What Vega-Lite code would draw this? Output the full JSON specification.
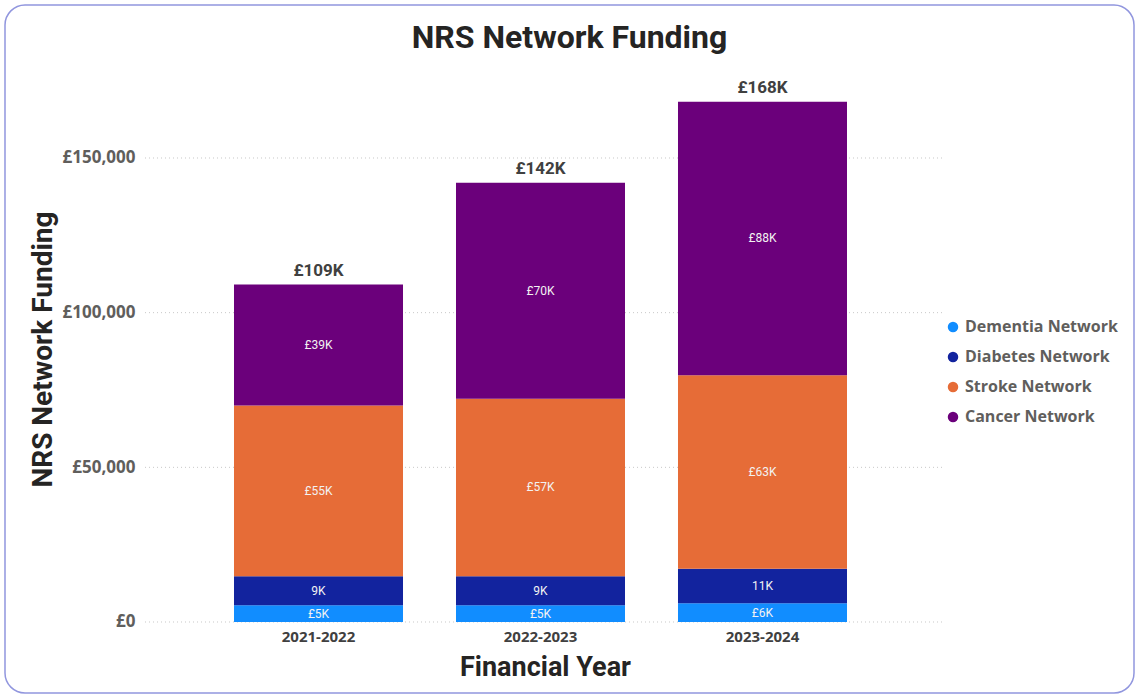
{
  "$schema": "https://vega.github.io/schema/vega-lite/v6.json",
  "width": 1129,
  "height": 688,
  "autosize": "none",
  "padding": {"left": 5, "top": 5, "right": 5, "bottom": 5},
  "background": "white",
  "title": {"text": "NRS Network Funding", "fontSize": 32, "font": "Roboto", "fontWeight": "bold", "color": "#252423", "anchor": "middle", "offset": -50},
  "config": {"view": {"stroke": "#9196de", "strokeWidth": 1.5, "cornerRadius": 20, "fill": "white"}},
  "datasets": {
    "funding": [
      {"year": "2021-2022", "network": "Dementia Network", "rank": 1, "amount": 5400, "label": "£5K"},
      {"year": "2021-2022", "network": "Diabetes Network", "rank": 2, "amount": 9400, "label": "9K"},
      {"year": "2021-2022", "network": "Stroke Network", "rank": 3, "amount": 55200, "label": "£55K"},
      {"year": "2021-2022", "network": "Cancer Network", "rank": 4, "amount": 39100, "label": "£39K"},
      {"year": "2022-2023", "network": "Dementia Network", "rank": 1, "amount": 5400, "label": "£5K"},
      {"year": "2022-2023", "network": "Diabetes Network", "rank": 2, "amount": 9400, "label": "9K"},
      {"year": "2022-2023", "network": "Stroke Network", "rank": 3, "amount": 57400, "label": "£57K"},
      {"year": "2022-2023", "network": "Cancer Network", "rank": 4, "amount": 69800, "label": "£70K"},
      {"year": "2023-2024", "network": "Dementia Network", "rank": 1, "amount": 6100, "label": "£6K"},
      {"year": "2023-2024", "network": "Diabetes Network", "rank": 2, "amount": 11100, "label": "11K"},
      {"year": "2023-2024", "network": "Stroke Network", "rank": 3, "amount": 62600, "label": "£63K"},
      {"year": "2023-2024", "network": "Cancer Network", "rank": 4, "amount": 88400, "label": "£88K"}
    ],
    "grid": [{"v": 0}, {"v": 50000}, {"v": 100000}, {"v": 150000}]
  },
  "layer": [
    {
      "data": {"name": "grid"},
      "mark": {"type": "rule", "strokeDash": [1, 3], "color": "#c8c8c8", "strokeWidth": 1},
      "encoding": {
        "y": {
          "field": "v", "type": "quantitative", "title": "NRS Network Funding",
          "scale": {"domain": [-22953, 199461], "nice": false, "zero": false},
          "axis": {
            "values": [0, 50000, 100000, 150000],
            "labelExpr": "'£' + format(datum.value, ',')",
            "domain": false, "ticks": false, "grid": false,
            "offset": -138, "labelPadding": 8,
            "labelFontSize": 17, "labelFont": "Open Sans", "labelFontWeight": "bold", "labelColor": "#605E5C",
            "titleFontSize": 28, "titleFont": "Roboto", "titleFontWeight": "bold", "titleColor": "#252423", "titlePadding": 5
          }
        },
        "x": {"datum": 0, "type": "quantitative", "scale": {"domain": [-0.175, 1.23625], "nice": false, "zero": false}, "axis": null},
        "x2": {"datum": 1}
      }
    },
    {
      "data": {"name": "funding"},
      "layer": [
        {
          "mark": {"type": "bar"},
          "encoding": {
            "x": {
              "field": "year", "type": "nominal", "title": "Financial Year",
              "scale": {"range": [118, 953], "paddingInner": 0.2387, "paddingOuter": 0.5},
              "axis": {
                "orient": "bottom", "offset": -70, "labelPadding": 6, "labelAngle": 0,
                "labelFontSize": 15, "labelFont": "Open Sans", "labelFontWeight": "bold", "labelColor": "#404040",
                "domain": false, "ticks": false,
                "titleFontSize": 27, "titleFont": "Roboto", "titleFontWeight": "bold", "titleColor": "#252423",
                "titlePadding": 10, "titleX": 540
              }
            },
            "y": {"field": "amount", "type": "quantitative", "stack": "zero", "title": "NRS Network Funding"},
            "color": {
              "field": "network", "type": "nominal",
              "scale": {"domain": ["Dementia Network", "Diabetes Network", "Stroke Network", "Cancer Network"], "range": ["#118DFF", "#12239E", "#E66C37", "#6B007B"]},
              "legend": {
                "orient": "none", "legendX": 940, "legendY": 314, "title": null,
                "symbolType": "circle", "symbolSize": 110, "symbolStrokeWidth": 0,
                "labelFontSize": 16, "labelFont": "Open Sans", "labelFontWeight": "bold", "labelColor": "#605E5C",
                "rowPadding": 14, "labelOffset": 4
              }
            },
            "order": {"field": "rank", "type": "quantitative", "sort": "ascending"}
          }
        },
        {
          "transform": [
            {"stack": "amount", "groupby": ["year"], "sort": [{"field": "rank", "order": "ascending"}], "as": ["y0", "y1"]},
            {"calculate": "(datum.y0 + datum.y1) / 2", "as": "mid"}
          ],
          "mark": {"type": "text", "font": "Roboto", "fontSize": 12, "color": "#f2f2f2", "baseline": "middle"},
          "encoding": {
            "x": {"field": "year", "type": "nominal", "title": "Financial Year", "scale": {"range": [118, 953], "paddingInner": 0.2387, "paddingOuter": 0.5}},
            "y": {"field": "mid", "type": "quantitative", "title": "NRS Network Funding"},
            "text": {"field": "label"}
          }
        },
        {
          "transform": [
            {"aggregate": [{"op": "sum", "field": "amount", "as": "total"}], "groupby": ["year"]},
            {"calculate": "'£' + format(datum.total / 1000, '.0f') + 'K'", "as": "tlabel"}
          ],
          "mark": {"type": "text", "font": "Roboto", "fontSize": 17, "fontWeight": "bold", "color": "#404040", "baseline": "alphabetic", "dy": -9},
          "encoding": {
            "x": {"field": "year", "type": "nominal", "title": "Financial Year", "scale": {"range": [118, 953], "paddingInner": 0.2387, "paddingOuter": 0.5}},
            "y": {"field": "total", "type": "quantitative", "title": "NRS Network Funding"},
            "text": {"field": "tlabel"}
          }
        }
      ]
    }
  ],
  "resolve": {"scale": {"x": "independent"}}
}
